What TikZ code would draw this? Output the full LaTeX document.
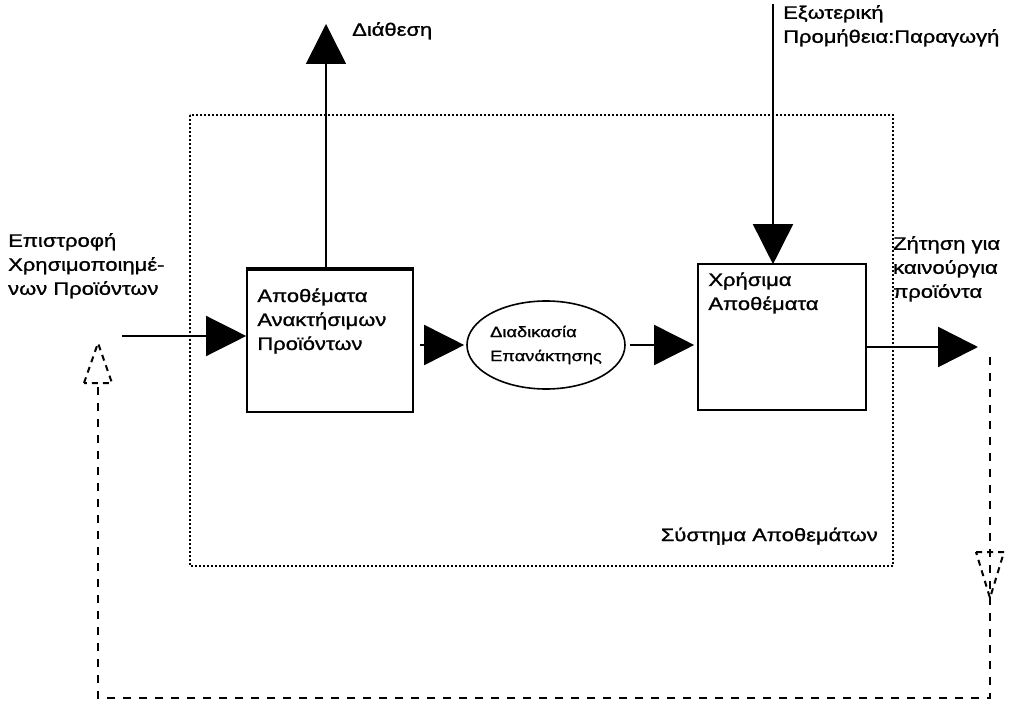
\documentclass[tikz,border=0pt]{standalone}
\usepackage{fontspec}
\setmainfont[FakeStretch=1.22,FakeBold=1.2]{Liberation Sans}
\usetikzlibrary{arrows.meta,shapes.geometric,calc}
\begin{document}
\begin{tikzpicture}[x=1pt,y=-1pt,
  lbl/.style={font=\fontsize{18}{24}\selectfont, align=left, inner sep=0pt, anchor=north west},
  big/.style={-{Triangle[length=40pt,width=40pt]}, line width=1.6pt},
  box/.style={draw, line width=1.6pt, inner sep=0pt},
  fb/.style={line width=2.8pt, dash pattern=on 8pt off 8pt},
  fbtip/.style={line width=2pt, dash pattern=on 6pt off 5pt},
  sys/.style={line width=1.4pt, dash pattern=on 1.6pt off 2.4pt}]
\useasboundingbox (0,0) rectangle (1023,714);
% system boundary
\draw[sys] (190,115) rectangle (893,566);
\node[lbl, anchor=south east] (systxt) at (878,545) {Σύστημα Αποθεμάτων};
% boxes
\node[box, minimum width=166pt, minimum height=144pt] (b1) at (330,340) {};
\draw[line width=1.6pt] ($(b1.north west)+(0,3)$) -- ($(b1.north east)+(0,3)$);
\node[lbl] (b1t) at ($(b1.north west)+(11,21)$) {Αποθέματα\\Ανακτήσιμων\\Προϊόντων};
\node[draw, ellipse, line width=1.6pt, minimum width=130pt, minimum height=88pt, inner sep=0pt,
  align=left, font=\fontsize{15}{24}\selectfont] (ell) at (546,345) {Διαδικασία\\Επανάκτησης};
\node[box, minimum width=168pt, minimum height=146pt] (b2) at (782,337) {};
\node[lbl] (b2t) at ($(b2.north west)+(11,9)$) {Χρήσιμα\\Αποθέματα};
% labels
\node[lbl] (ret) at (8,233) {Επιστροφή\\Χρησιμοποιημέ-\\νων Προϊόντων};
\node[lbl] (disp) at (352,22) {Διάθεση};
\node[lbl] (ext) at (783,5) {Εξωτερική\\Προμήθεια:Παραγωγή};
\node[lbl] (dem) at (893,236) {Ζήτηση για\\καινούργια\\προϊόντα};
% free ends
\coordinate (inS) at (122,336);
\coordinate (dispTip) at (326,24);
\coordinate (extS) at (773,4);
\coordinate (demTip) at (978,347);
\coordinate (fbTop) at (990,357);
\coordinate (fbBL) at (98,698);
\coordinate (fbLTip) at (98,343);
% connectors
\draw[big, line width=1.3pt] (inS) -- (b1.west|-inS);
\draw[big] ($(b1.north)+(-4,0)$) -- (dispTip);
\draw[big] ($(b1.east|-ell.west)+(6,0)$) -- ([xshift=-2pt]ell.west);
\draw[big] ([xshift=4pt]ell.east) -- ([xshift=-3pt]b2.west|-ell.east);
\draw[big] (extS) -- ([xshift=-9pt,yshift=-1pt]b2.north);
\draw[big, line width=2.6pt] (b2.east|-demTip) -- (demTip);
% feedback loop
\draw[fb] (fbTop) |- (fbBL) -- ($(fbLTip)+(0,40)$);
\draw[fbtip] ($(fbLTip)+(-14,40)$) -- (fbLTip) -- ($(fbLTip)+(14,40)$) -- cycle;
\draw[fbtip] (976,552) -- (1004,552) -- (990,598) -- cycle;
\end{tikzpicture}
\end{document}
